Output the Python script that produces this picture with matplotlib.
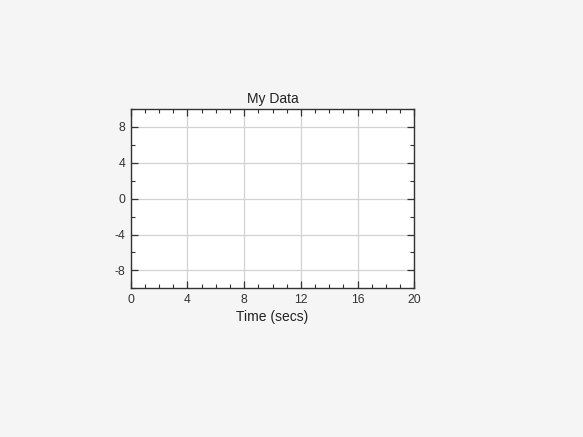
import matplotlib
matplotlib.use('Agg')
from matplotlib import pyplot as plt
from matplotlib.ticker import MultipleLocator

title = 'My Data'
x_label = 'Time (secs)'
x_limits = [0, 20]
y_limits = [-10, 10]
x_ticks = [0, 4, 8, 12, 16, 20]
y_ticks = [-8, -4, 0, 4, 8]

plt.rcParams['font.family'] = ['Liberation Sans', 'DejaVu Sans']
plt.rcParams['axes.unicode_minus'] = False

fig = plt.figure(figsize=(5.83, 4.37), dpi=100, facecolor='#f5f5f5')
ax = fig.add_axes([130.7 / 583, 1 - 288.3 / 437, (414.3 - 130.7) / 583, (288.3 - 109) / 437])
ax.set_facecolor('white')

ax.set_xlim(x_limits)
ax.set_ylim(y_limits)
ax.set_xticks(x_ticks)
ax.set_yticks(y_ticks)
ax.xaxis.set_minor_locator(MultipleLocator(1))
ax.yaxis.set_minor_locator(MultipleLocator(2))

ax.grid(True, which='major', color='#d2d2d2', linewidth=0.9)
ax.set_axisbelow(True)

ax.tick_params(which='both', direction='in', top=True, right=True, colors='#333333',
               labelsize=8.7, labelcolor='#333333')
ax.tick_params(which='major', length=5, width=0.9, pad=4)
ax.tick_params(which='minor', length=3, width=0.8)
for s in ax.spines.values():
    s.set_color('#333333')
    s.set_linewidth(1.0)

ax.set_title(title, fontsize=10, color='#222222', pad=4.5)
ax.set_xlabel(x_label, fontsize=10, color='#222222', labelpad=3)

plt.savefig('out.png', dpi=100, facecolor=fig.get_facecolor())
